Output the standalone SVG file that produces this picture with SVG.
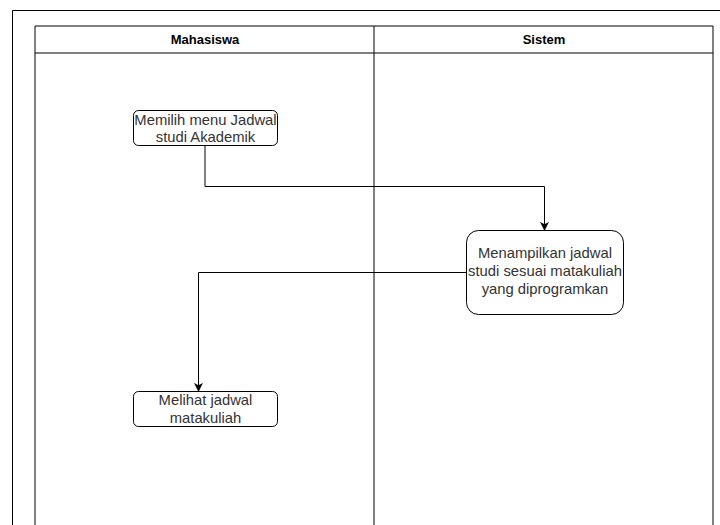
<svg xmlns="http://www.w3.org/2000/svg" width="720" height="525" viewBox="0 0 720 525">
  <defs>
    <marker id="arrow" viewBox="0 0 10 10" refX="9" refY="5" markerWidth="9" markerHeight="9" markerUnits="userSpaceOnUse" orient="auto">
      <path d="M0,0 L10,5 L0,10 L2.5,5 Z" fill="#000"/>
    </marker>
  </defs>
  <style>
    .frame { fill: none; stroke: #000; stroke-width: 1; }
    .lane { fill: none; stroke: #000; stroke-width: 1; }
    .head { font-family: "Liberation Sans", Arial, sans-serif; font-size: 13px; font-weight: bold; fill: #000; text-anchor: middle; }
    .node rect { fill: #fff; stroke: #000; stroke-width: 1; }
    .node text { font-family: "Liberation Sans", Arial, sans-serif; font-size: 14.8px; fill: #333; text-anchor: middle; }
    .edge { fill: none; stroke: #000; stroke-width: 1; marker-end: url(#arrow); }
  </style>
  <rect width="720" height="525" fill="#fff"/>

  <!-- outer page frame -->
  <path class="frame" d="M12.5,525 V10.5 H720"/>

  <!-- swimlane pool -->
  <g id="pool">
    <path class="lane" d="M35,525 V26 H713 V525"/>
    <path class="lane" d="M35,53 H713"/>
    <path class="lane" d="M374,26 V525"/>
    <text class="head" x="205" y="44">Mahasiswa</text>
    <text class="head" x="544" y="44">Sistem</text>
  </g>

  <!-- connectors -->
  <g id="connectors">
    <path class="edge" d="M205,146 V186.5 H544.5 V230"/>
    <path class="edge" d="M466,272.5 H198.5 V391"/>
  </g>

  <g id="memilih" class="node">
    <rect x="133.5" y="110.5" width="144" height="35" rx="5"/>
    <text x="205.5" y="125">Memilih menu Jadwal</text>
    <text x="205.5" y="142">studi Akademik</text>
  </g>

  <g id="menampilkan" class="node">
    <rect x="466.5" y="230.5" width="157" height="84" rx="12"/>
    <text x="545" y="258">Menampilkan jadwal</text>
    <text x="545" y="276">studi sesuai matakuliah</text>
    <text x="545" y="294">yang diprogramkan</text>
  </g>

  <g id="melihat" class="node">
    <rect x="133.5" y="391.5" width="144" height="35" rx="5"/>
    <text x="205.5" y="405">Melihat jadwal</text>
    <text x="205.5" y="423">matakuliah</text>
  </g>
</svg>
